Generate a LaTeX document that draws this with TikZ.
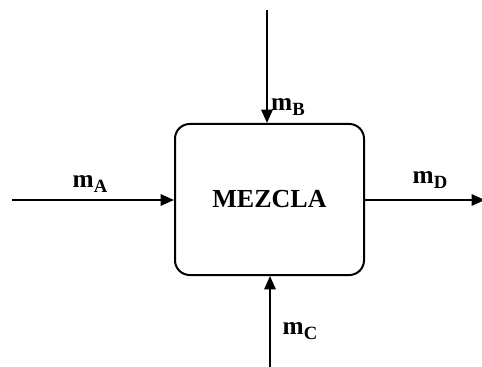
\documentclass[tikz,border=0pt]{standalone}
\usepackage{fontspec}
\setmainfont{Liberation Serif}
\usetikzlibrary{arrows.meta}
\newcommand{\msub}[1]{\textbf{m\raisebox{-0.45ex}{\fontsize{14}{14}\selectfont #1}}}
\tikzset{
  flow/.style={line width=1.4pt,-{Triangle[length=10pt,width=8.5pt]}},
  lbl/.style={font=\fontsize{19}{19}\selectfont\bfseries, inner sep=0pt}
}
\begin{document}
\begin{tikzpicture}[x=0.75pt,y=-0.75pt]
\useasboundingbox (0,0) rectangle (482,367);
\node[draw, line width=1.5pt, rounded corners=11pt, minimum width=189*0.75pt, minimum height=151*0.75pt, font=\fontsize{19.5}{19.5}\selectfont\bfseries] (box) at (269.5,199.5) {MEZCLA};
\coordinate (a0) at (12,200);
\coordinate (d1) at (485,200);
\coordinate (b0) at (267,10);
\coordinate (c0) at (270,367);
\draw[flow] (a0) -- (a0 -| box.west);
\draw[flow] (box.east |- d1) -- (d1);
\draw[flow] (b0) -- (b0 |- box.north);
\draw[flow] (c0) -- (c0 |- box.south);
\node[lbl] (la) at (90,184) {\msub{A}};
\node[lbl] (ld) at (430,180) {\msub{D}};
\node[lbl] (lb) at (288,107) {\msub{B}};
\node[lbl] (lc) at (300,331) {\msub{C}};
\end{tikzpicture}
\end{document}
